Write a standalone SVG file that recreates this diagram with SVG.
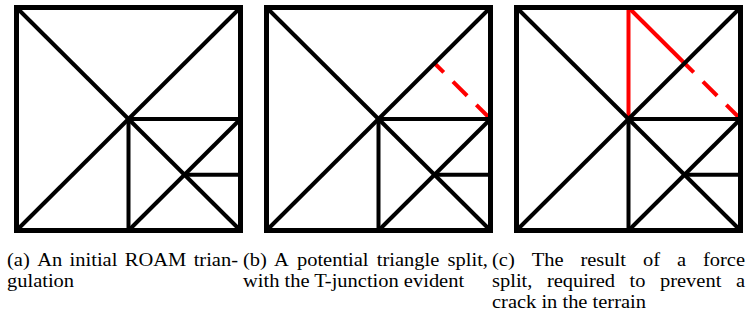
<svg xmlns="http://www.w3.org/2000/svg" width="752" height="320" viewBox="0 0 752 320">
<style>
.bg{fill:#ffffff}
.frame{fill:none;stroke:#000;stroke-width:5;stroke-linejoin:miter}
.ln{fill:none;stroke:#000;stroke-width:4;stroke-linecap:butt}
.red{fill:none;stroke:#ff0000;stroke-width:4;stroke-linecap:butt}
.dash{stroke-dasharray:20 13}
.cap{font-family:"Liberation Serif","Times New Roman",serif;font-size:19.5px;fill:#000}
.end{text-anchor:end}
</style>
<defs>
<g id="base">
<line class="ln" x1="16.5" y1="7.5" x2="240.5" y2="230.5"/>
<line class="ln" x1="16.5" y1="230.5" x2="240.5" y2="7.5"/>
<line class="ln" x1="128.5" y1="119" x2="240.5" y2="119"/>
<line class="ln" x1="128.5" y1="119" x2="128.5" y2="230.5"/>
<line class="ln" x1="128.5" y1="230.5" x2="240.5" y2="119"/>
<line class="ln" x1="184.5" y1="174.75" x2="240.5" y2="174.75"/>
<rect class="frame" x="16.5" y="7.5" width="224" height="223"/>
</g>
</defs>
<rect class="bg" x="0" y="0" width="752" height="320"/>

<g id="panel-a">
<use href="#base"/>
</g>

<g id="panel-b">
<line class="red dash" x1="490.5" y1="119" x2="434.5" y2="63.25"/>
<use href="#base" transform="translate(250,0)"/>
</g>

<g id="panel-c">
<line class="red" x1="628.5" y1="7.5" x2="628.5" y2="119"/>
<line class="red" x1="628.5" y1="7.5" x2="684.5" y2="63.25"/>
<line class="red dash" x1="740.5" y1="119" x2="684.5" y2="63.25"/>
<use href="#base" transform="translate(500,0)"/>
</g>

<g id="captions" transform="scale(1.05,1)">
<text class="cap" y="266.5"><tspan x="6.67">(a)</tspan><tspan x="35.38">An</tspan><tspan x="66.29">initial</tspan><tspan x="118.86">ROAM</tspan></text>
<text class="cap end" x="226.67" y="266.5">trian-</text>
<text class="cap" x="6.67" y="287.5">gulation</text>
<text class="cap" y="266.5"><tspan x="231.43">(b)</tspan><tspan x="260.9">A</tspan><tspan x="282.81">potential</tspan><tspan x="358.86">triangle</tspan></text>
<text class="cap end" x="464.76" y="266.5">split,</text>
<text class="cap" x="231.43" y="287.5">with the T-junction evident</text>
<text class="cap" y="266.5"><tspan x="468.57">(c)</tspan><tspan x="506.35">The</tspan><tspan x="552.81">result</tspan><tspan x="612.29">of</tspan><tspan x="644.67">a</tspan></text>
<text class="cap end" x="709.52" y="266.5">force</text>
<text class="cap" y="287.5"><tspan x="468.57">split,</tspan><tspan x="520.86">required</tspan><tspan x="599.62">to</tspan><tspan x="628.57">prevent</tspan></text>
<text class="cap end" x="709.52" y="287.5">a</text>
<text class="cap" x="468.57" y="308">crack in the terrain</text>
</g>
</svg>
